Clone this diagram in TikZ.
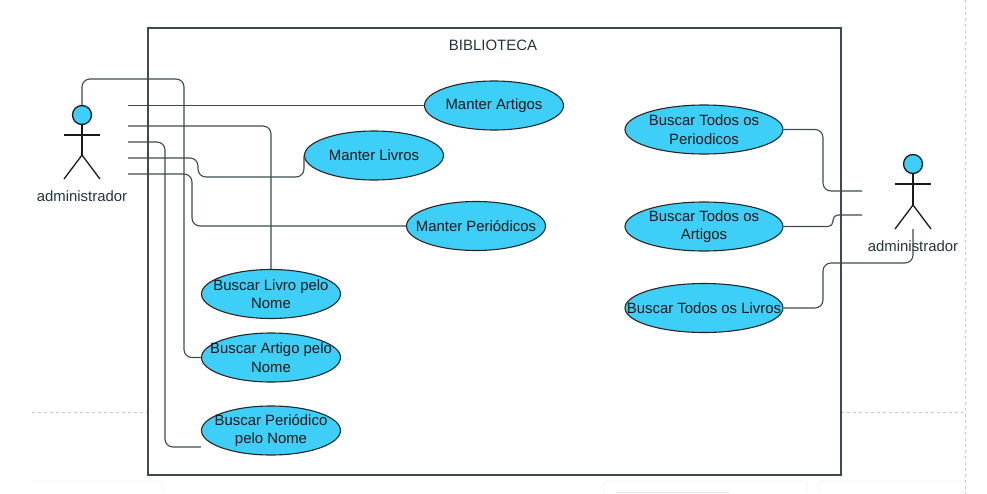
\documentclass[tikz,border=0pt]{standalone}
\usepackage{fontspec}
\setmainfont{Liberation Sans}
\usetikzlibrary{positioning, shapes.geometric}
\definecolor{usecase}{HTML}{3DCFF8}
\definecolor{wire}{HTML}{3C4B50}
\definecolor{inktitle}{HTML}{24343C}
\tikzset{
  usecase/.style={draw=black!85, ellipse, fill=usecase, line width=1.1pt, inner xsep=-30pt, inner ysep=-12pt, minimum height=49pt, align=center, font=\fontsize{14.9}{18.5}\selectfont, text=black!90},
  head/.style={draw=black!90, circle, fill=usecase, line width=1.3pt, minimum size=19pt, inner sep=0pt},
  limb/.style={draw=black!90, line width=1.3pt},
  wire/.style={draw=wire, line width=1.1pt, rounded corners=8pt},
  actorname/.style={font=\fontsize{14.9}{17}\selectfont, text=inktitle, inner sep=0pt},
  guide/.style={draw=black!22, line width=0.9pt, dashed},
  card/.style={draw=black!5, line width=0.8pt, rounded corners=4pt},
}

\begin{document}
\begin{tikzpicture}[x=1pt, y=-1pt]
  \useasboundingbox (0,0) rectangle (987,493);

  % page guides and cards behind the drawing
  \draw[guide] (32,412) -- (148,412);
  \draw[guide] (841,412) -- (965,412);
  \draw[guide] (965,0) -- (965,493);
  \draw[card] (32,481) -- (163,481) -- (163,493);
  \draw[card] (604,493) -- (604,481) -- (807,481) -- (807,493);
  \draw[card] (819,493) -- (819,481) -- (965,481);
  \fill[black!12] (616,491.5) rectangle (729,493);

  % system boundary
  \node[draw=wire, line width=1.2pt, minimum width=693pt, minimum height=447pt, inner sep=0pt] (sys) at (494.5,251.5) {};
  \node[font=\fontsize{15}{17}\selectfont, text=inktitle, inner sep=0pt] (title) at (493,45) {BIBLIOTECA};

  % use cases
  \node[usecase, minimum width=139pt] (artigos) at (494,105.5) {Manter Artigos};
  \node[usecase, minimum width=139pt] (livros) at (374,155.5) {Manter Livros};
  \node[usecase, minimum width=139pt] (periodicos) at (476,226) {Manter Periódicos};
  \node[usecase, minimum width=139pt] (blivro) at (271,294) {Buscar Livro pelo\\Nome};
  \node[usecase, minimum width=139pt] (bartigo) at (271,357.5) {Buscar Artigo pelo\\Nome};
  \node[usecase, minimum width=139pt] (bperiodico) at (271,430.5) {Buscar Periódico\\pelo Nome};
  \node[usecase, minimum width=158pt] (tperiodicos) at (704,129.5) {Buscar Todos os\\Periodicos};
  \node[usecase, minimum width=158pt] (tartigos) at (704,226.5) {Buscar Todos os\\Artigos};
  \node[usecase, minimum width=158pt] (tlivros) at (704,308) {Buscar Todos os Livros};

  % left actor
  \node[head] (headL) at (82,115) {};
  \coordinate (hipL) at (82,155);
  \draw[limb] (headL) -- (hipL);
  \draw[limb] (64,135) -- (100,135);
  \draw[limb] (64,179) -- (hipL) -- (100,179);
  \node[actorname] (nameL) at (82,196) {administrador};

  % right actor
  \node[head] (headR) at (913,164) {};
  \coordinate (hipR) at (913,205);
  \draw[limb] (headR) -- (hipR);
  \draw[limb] (895,184) -- (931,184);
  \draw[limb] (895,229) -- (hipR) -- (931,229);
  \node[actorname] (nameR) at (913,246) {administrador};

  % free ends of the connectors
  \coordinate (a1) at (128,105.5);
  \coordinate (a2) at (128,126);
  \coordinate (a3) at (128,142);
  \coordinate (a4) at (128,158);
  \coordinate (a5) at (128,174);
  \coordinate (r1) at (862,191);
  \coordinate (r2) at (862,215);
  \coordinate (r3) at (913,229);

  % left connectors
  \draw[wire] (headL.north) |- (184,79) |- (bartigo.west);
  \draw[wire] (a1) -- (artigos.west);
  \draw[wire] (a2) -| (blivro.north);
  \draw[wire] (a3) -| (165,300) |- (bperiodico.west |- 0,447);
  \draw[wire] (a4) -| (198,177) -| (livros.west);
  \draw[wire] (a5) -| (192,226) -- (periodicos.west);

  % right connectors
  \draw[wire] (tperiodicos.east) -| (823,191) -- (r1);
  \draw[wire, rounded corners=5pt] (tartigos.east) -| (833,215) -- (r2);
  \draw[wire] (tlivros.east) -| (823,263) -| (r3);
\end{tikzpicture}
\end{document}
